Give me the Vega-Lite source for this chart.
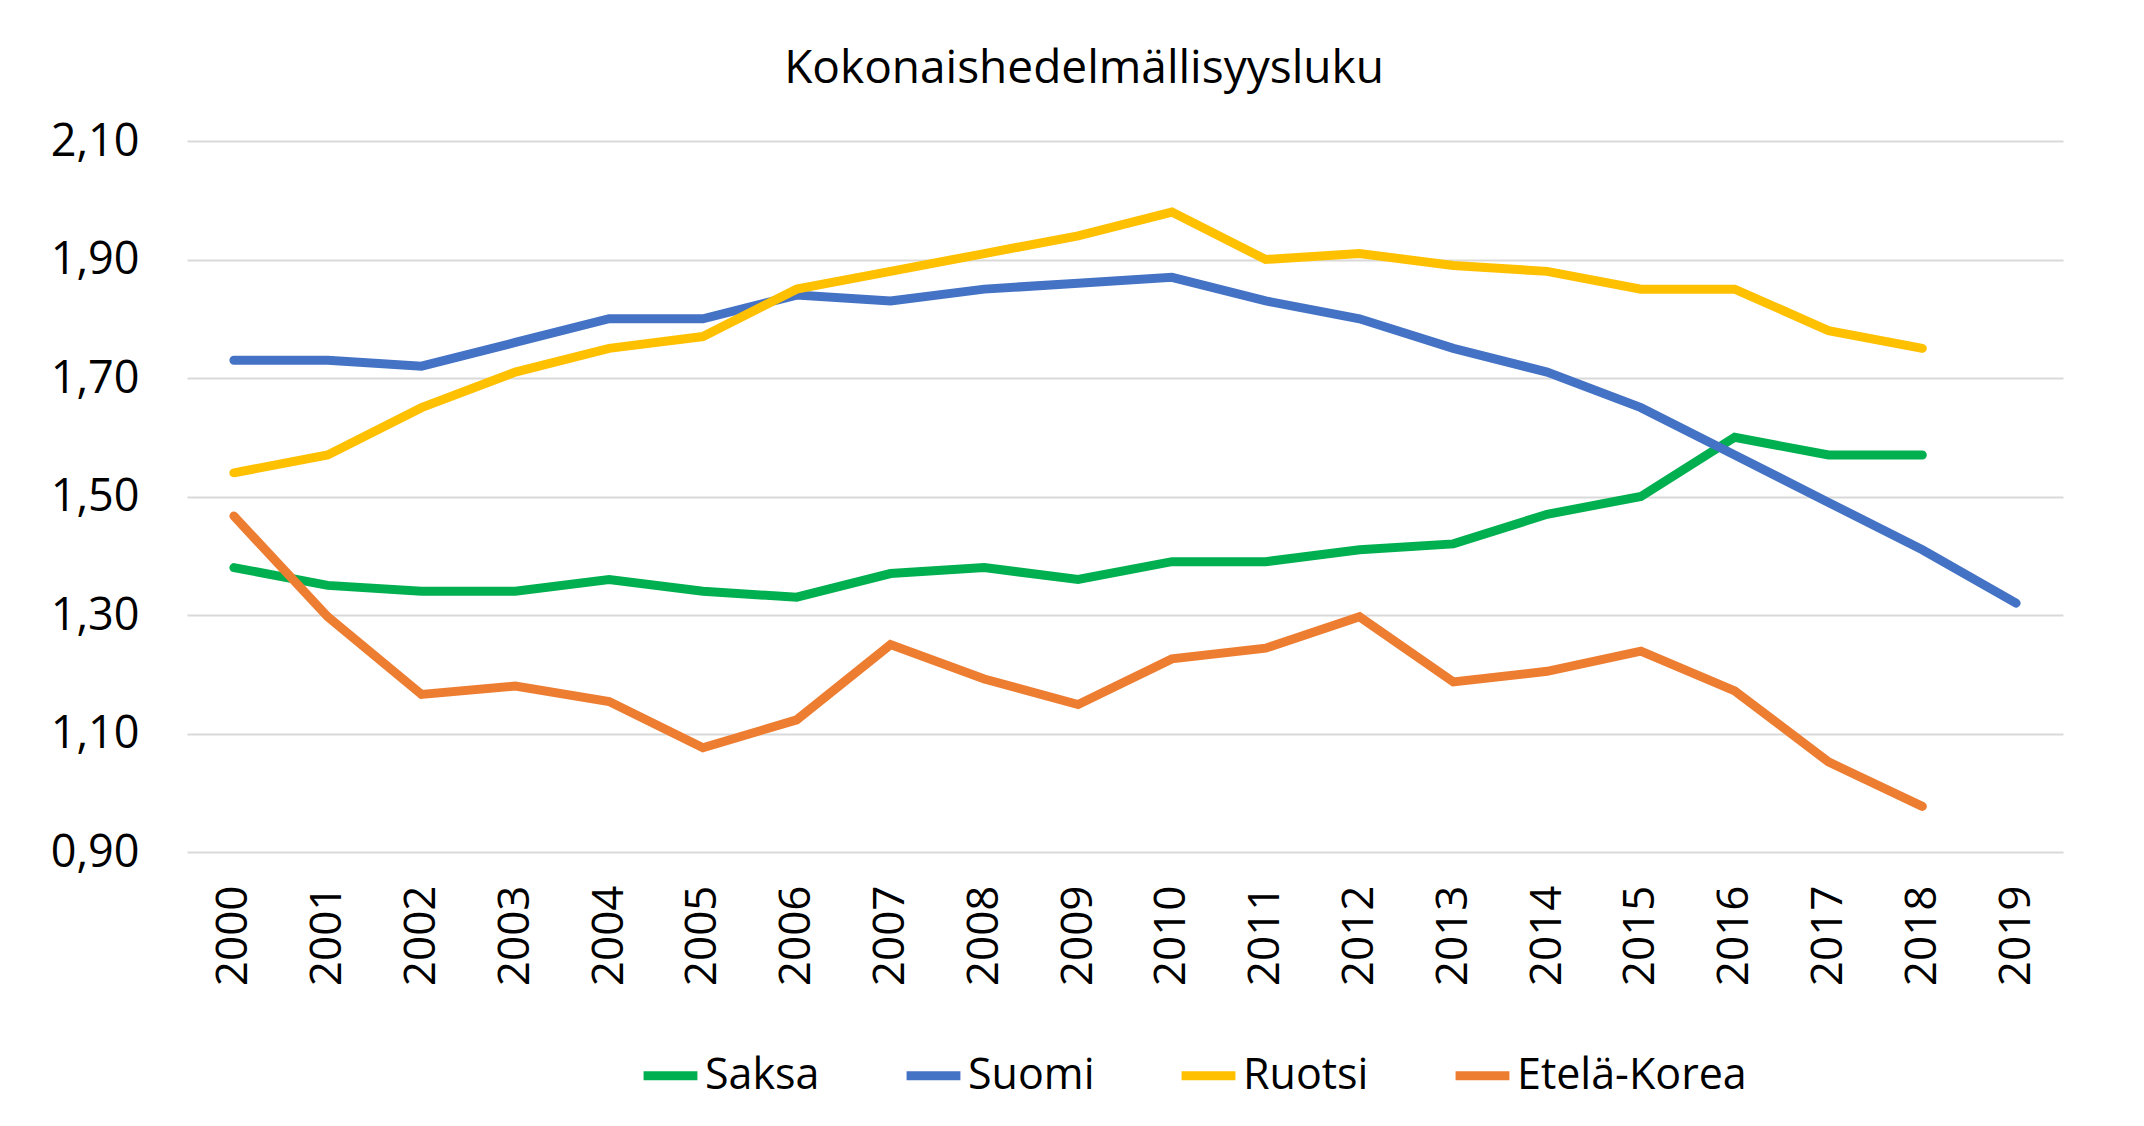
{
  "$schema": "https://vega.github.io/schema/vega-lite/v6.json",
  "autosize": {"type": "none"},
  "width": 1876,
  "height": 711,
  "padding": {"left": 187, "top": 141, "right": 81, "bottom": 274},
  "background": "white",
  "title": {
    "text": "Kokonaishedelmällisyysluku",
    "font": "Open Sans",
    "fontSize": 46,
    "fontWeight": "normal",
    "color": "#000000",
    "anchor": "middle",
    "dx": -41,
    "offset": 26
  },
  "data": {
    "values": [
      {"year": "2000", "country": "Saksa", "value": 1.38},
      {"year": "2001", "country": "Saksa", "value": 1.35},
      {"year": "2002", "country": "Saksa", "value": 1.34},
      {"year": "2003", "country": "Saksa", "value": 1.34},
      {"year": "2004", "country": "Saksa", "value": 1.36},
      {"year": "2005", "country": "Saksa", "value": 1.34},
      {"year": "2006", "country": "Saksa", "value": 1.33},
      {"year": "2007", "country": "Saksa", "value": 1.37},
      {"year": "2008", "country": "Saksa", "value": 1.38},
      {"year": "2009", "country": "Saksa", "value": 1.36},
      {"year": "2010", "country": "Saksa", "value": 1.39},
      {"year": "2011", "country": "Saksa", "value": 1.39},
      {"year": "2012", "country": "Saksa", "value": 1.41},
      {"year": "2013", "country": "Saksa", "value": 1.42},
      {"year": "2014", "country": "Saksa", "value": 1.47},
      {"year": "2015", "country": "Saksa", "value": 1.50},
      {"year": "2016", "country": "Saksa", "value": 1.60},
      {"year": "2017", "country": "Saksa", "value": 1.57},
      {"year": "2018", "country": "Saksa", "value": 1.57},
      {"year": "2000", "country": "Suomi", "value": 1.73},
      {"year": "2001", "country": "Suomi", "value": 1.73},
      {"year": "2002", "country": "Suomi", "value": 1.72},
      {"year": "2003", "country": "Suomi", "value": 1.76},
      {"year": "2004", "country": "Suomi", "value": 1.80},
      {"year": "2005", "country": "Suomi", "value": 1.80},
      {"year": "2006", "country": "Suomi", "value": 1.84},
      {"year": "2007", "country": "Suomi", "value": 1.83},
      {"year": "2008", "country": "Suomi", "value": 1.85},
      {"year": "2009", "country": "Suomi", "value": 1.86},
      {"year": "2010", "country": "Suomi", "value": 1.87},
      {"year": "2011", "country": "Suomi", "value": 1.83},
      {"year": "2012", "country": "Suomi", "value": 1.80},
      {"year": "2013", "country": "Suomi", "value": 1.75},
      {"year": "2014", "country": "Suomi", "value": 1.71},
      {"year": "2015", "country": "Suomi", "value": 1.65},
      {"year": "2016", "country": "Suomi", "value": 1.57},
      {"year": "2017", "country": "Suomi", "value": 1.49},
      {"year": "2018", "country": "Suomi", "value": 1.41},
      {"year": "2019", "country": "Suomi", "value": 1.32},
      {"year": "2000", "country": "Ruotsi", "value": 1.54},
      {"year": "2001", "country": "Ruotsi", "value": 1.57},
      {"year": "2002", "country": "Ruotsi", "value": 1.65},
      {"year": "2003", "country": "Ruotsi", "value": 1.71},
      {"year": "2004", "country": "Ruotsi", "value": 1.75},
      {"year": "2005", "country": "Ruotsi", "value": 1.77},
      {"year": "2006", "country": "Ruotsi", "value": 1.85},
      {"year": "2007", "country": "Ruotsi", "value": 1.88},
      {"year": "2008", "country": "Ruotsi", "value": 1.91},
      {"year": "2009", "country": "Ruotsi", "value": 1.94},
      {"year": "2010", "country": "Ruotsi", "value": 1.98},
      {"year": "2011", "country": "Ruotsi", "value": 1.90},
      {"year": "2012", "country": "Ruotsi", "value": 1.91},
      {"year": "2013", "country": "Ruotsi", "value": 1.89},
      {"year": "2014", "country": "Ruotsi", "value": 1.88},
      {"year": "2015", "country": "Ruotsi", "value": 1.85},
      {"year": "2016", "country": "Ruotsi", "value": 1.85},
      {"year": "2017", "country": "Ruotsi", "value": 1.78},
      {"year": "2018", "country": "Ruotsi", "value": 1.75},
      {"year": "2000", "country": "Etelä-Korea", "value": 1.467},
      {"year": "2001", "country": "Etelä-Korea", "value": 1.297},
      {"year": "2002", "country": "Etelä-Korea", "value": 1.166},
      {"year": "2003", "country": "Etelä-Korea", "value": 1.180},
      {"year": "2004", "country": "Etelä-Korea", "value": 1.154},
      {"year": "2005", "country": "Etelä-Korea", "value": 1.076},
      {"year": "2006", "country": "Etelä-Korea", "value": 1.123},
      {"year": "2007", "country": "Etelä-Korea", "value": 1.250},
      {"year": "2008", "country": "Etelä-Korea", "value": 1.192},
      {"year": "2009", "country": "Etelä-Korea", "value": 1.149},
      {"year": "2010", "country": "Etelä-Korea", "value": 1.226},
      {"year": "2011", "country": "Etelä-Korea", "value": 1.244},
      {"year": "2012", "country": "Etelä-Korea", "value": 1.297},
      {"year": "2013", "country": "Etelä-Korea", "value": 1.187},
      {"year": "2014", "country": "Etelä-Korea", "value": 1.205},
      {"year": "2015", "country": "Etelä-Korea", "value": 1.239},
      {"year": "2016", "country": "Etelä-Korea", "value": 1.172},
      {"year": "2017", "country": "Etelä-Korea", "value": 1.052},
      {"year": "2018", "country": "Etelä-Korea", "value": 0.977}
    ]
  },
  "mark": {"type": "line", "strokeWidth": 9, "strokeCap": "round", "strokeJoin": "miter"},
  "encoding": {
    "x": {
      "field": "year",
      "type": "ordinal",
      "scale": {"type": "point", "padding": 0.5},
      "axis": {
        "title": null,
        "labelAngle": -90,
        "labelFont": "Open Sans",
        "labelFontSize": 44,
        "labelColor": "#000000",
        "labelPadding": 33,
        "domain": false,
        "ticks": false,
        "grid": false
      }
    },
    "y": {
      "field": "value",
      "type": "quantitative",
      "scale": {"domain": [0.9, 2.1], "nice": false, "zero": false},
      "axis": {
        "title": null,
        "values": [0.9, 1.1, 1.3, 1.5, 1.7, 1.9, 2.1],
        "labelExpr": "replace(format(datum.value, '.2f'), '.', ',')",
        "labelFont": "Open Sans",
        "labelFontSize": 45,
        "labelColor": "#000000",
        "labelPadding": 48,
        "domain": false,
        "ticks": false,
        "grid": true,
        "gridColor": "#D9D9D9",
        "gridWidth": 2
      }
    },
    "color": {
      "field": "country",
      "type": "nominal",
      "scale": {
        "domain": ["Saksa", "Suomi", "Ruotsi", "Etelä-Korea"],
        "range": ["#00B050", "#4472C4", "#FFC000", "#ED7D31"]
      },
      "legend": {
        "title": null,
        "orient": "none",
        "direction": "horizontal",
        "columns": 4,
        "legendX": 452,
        "legendY": 903,
        "symbolType": "stroke",
        "symbolSize": 2900,
        "symbolStrokeWidth": 9,
        "labelFont": "Open Sans",
        "labelFontSize": 43,
        "labelColor": "#000000",
        "labelOffset": 3,
        "columnPadding": 68,
        "labelLimit": 400
      }
    }
  },
  "config": {"view": {"stroke": null}}
}
